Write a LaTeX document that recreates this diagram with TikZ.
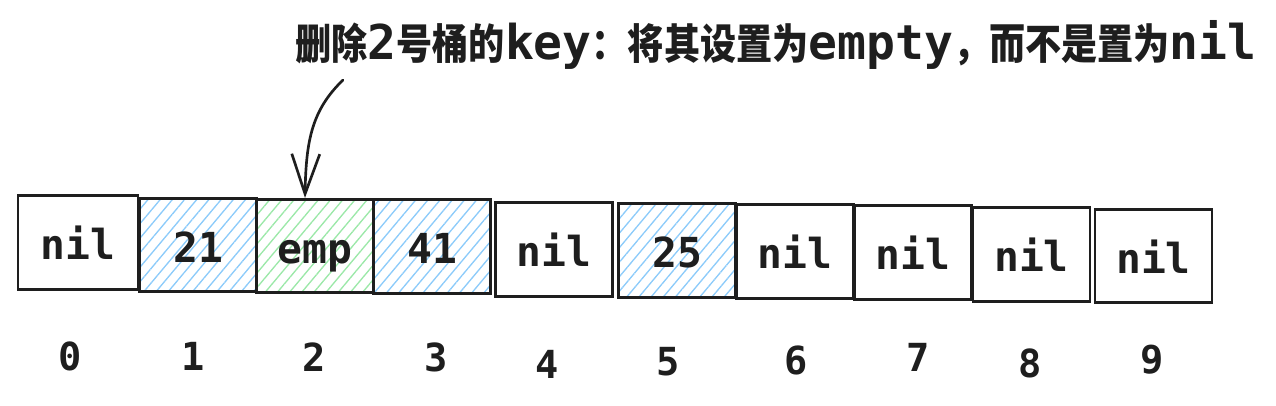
\documentclass[tikz,border=0pt]{standalone}
\usepackage{fontspec}
\setmonofont{DejaVu Sans Mono}
\newfontfamily\cjk{Noto Sans CJK SC}[FakeStretch=0.86]
\usetikzlibrary{arrows.meta,patterns.meta}
\definecolor{hatchblue}{HTML}{8CCBFA}
\definecolor{hatchgreen}{HTML}{9BE8A8}
\definecolor{inkline}{HTML}{1E1E1E}
\tikzset{
  cell/.style={draw=inkline, line width=2.1pt, minimum width=87.75pt, minimum height=70pt,
    inner sep=0pt, text height=25.5pt, text depth=0pt,
    font=\ttfamily\bfseries\fontsize{31}{31}\selectfont, text=inkline},
  bluecell/.style={cell, pattern={Lines[angle=50,distance=7pt,line width=1pt]}, pattern color=hatchblue},
  greencell/.style={cell, pattern={Lines[angle=50,distance=7pt,line width=1pt]}, pattern color=hatchgreen},
  idx/.style={font=\ttfamily\bfseries\fontsize{29}{29}\selectfont, text=inkline},
  pointer/.style={draw=inkline, line width=2pt, line cap=round, -{Straight Barb[length=30pt,width=21pt,line width=2pt]}}
}
\newcommand\ttpart[1]{{\ttfamily\fontsize{36}{36}\selectfont #1}}
\begin{document}
\begin{tikzpicture}[x=0.75pt,y=-0.75pt]
            \useasboundingbox (0,0) rectangle (1276,405);%

            % Title over the buckets
            \node [text=inkline, inner sep=0pt] (title) at (776,45)
              {\cjk\bfseries\fontsize{31.5}{31.5}\selectfont 删除\ttpart{2}号桶的\ttpart{key}：将其设置为\ttpart{empty}，而不是置为\ttpart{nil}};%

            % Buckets 0 .. 9
            \node [cell, minimum width=90pt, minimum height=71pt] (b0) at (78,242.5) {nil};%
            \node [bluecell] (b1) at (198,245) {21};%
            \node [greencell] (b2) at (315,246) {emp};%
            \node [bluecell] (b3) at (432,246.5) {41};%
            \node [cell] (b4) at (554,249.5) {nil};%
            \node [bluecell] (b5) at (677,250.5) {25};%
            \node [cell] (b6) at (795,251.5) {nil};%
            \node [cell] (b7) at (913,252.5) {nil};%
            \node [cell] (b8) at (1031.5,254.5) {nil};%
            \node [cell] (b9) at (1153.5,256) {nil};%

            % Bucket numbers
            \node [idx] (i0) at (70,356) {0};%
            \node [idx] (i1) at (193,356) {1};%
            \node [idx] (i2) at (314,357) {2};%
            \node [idx] (i3) at (436,357) {3};%
            \node [idx] (i4) at (547,364) {4};%
            \node [idx] (i5) at (668,362) {5};%
            \node [idx] (i6) at (796,360) {6};%
            \node [idx] (i7) at (918,357) {7};%
            \node [idx] (i8) at (1030,363) {8};%
            \node [idx] (i9) at (1152,360) {9};%

            % Arrow onto bucket 2
            \coordinate (from) at (343,80);%
            \draw [pointer] (from) .. controls (312,110) and (306,140) .. ([xshift=-7.5pt]b2.north);%
\end{tikzpicture}
\end{document}
